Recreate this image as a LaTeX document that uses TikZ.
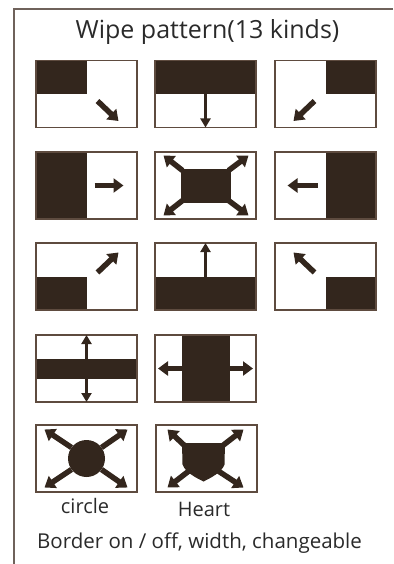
\documentclass[tikz,border=0pt]{standalone}
\usepackage{fontspec}
\setmainfont{Open Sans}
\usepackage{tikz}
\usetikzlibrary{arrows.meta,calc,backgrounds}
\definecolor{WipeInk}{HTML}{33261D}
\definecolor{WipeEdge}{HTML}{5E4B3F}
\definecolor{WipeFrame}{HTML}{6F625B}
\definecolor{WipeText}{HTML}{2A2A2A}

\begin{document}
\begin{tikzpicture}[x=1pt,y=-1pt,
  wbox/.style={draw=WipeEdge,line width=1.6pt,minimum width=101pt,
    minimum height=67pt,inner sep=0pt,outer sep=0pt},
  fatarrow/.style={-{Triangle[length=10pt,width=14pt]},line width=5.5pt,WipeInk},
  thinarrow/.style={-{Triangle[length=9pt,width=10pt]},line width=2.2pt,WipeInk},
  label/.style={anchor=base,WipeText,font=\fontsize{20}{24}\selectfont}]
  \useasboundingbox (0,0) rectangle (393,564);
  \draw[WipeFrame,line width=2pt] (393,9) -- (14,9) -- (14,566);
  \node[anchor=base,WipeText,font=\fontsize{25}{30}\selectfont] (title)
    at (207.5,38.5) {Wipe pattern(13 kinds)};
  % the wipe boxes
  \node[wbox] (cornerTL) at (86.5,94) {};
  \node[wbox] (edgeTop) at (205.5,94) {};
  \node[wbox] (cornerTR) at (325.5,94) {};
  \node[wbox] (edgeLeft) at (86.5,185.5) {};
  \node[wbox] (boxCenter) at (205.5,185.5) {};
  \node[wbox] (edgeRight) at (325.5,185.5) {};
  \node[wbox] (cornerBL) at (86.5,276.5) {};
  \node[wbox] (edgeBottom) at (205.5,276.5) {};
  \node[wbox] (cornerBR) at (325.5,276.5) {};
  \node[wbox] (splitH) at (86.5,368.5) {};
  \node[wbox] (splitV) at (205.5,368.5) {};
  \node[wbox] (circ) at (86.5,458.5) {};
  \node[wbox] (heart) at (206.5,458.5) {};
  \begin{scope}[on background layer]
    \fill[WipeInk] (cornerTL.north west) rectangle (cornerTL.center);
    \fill[WipeInk] (edgeTop.north west) rectangle (edgeTop.east);
    \fill[WipeInk] (cornerTR.north east) rectangle (cornerTR.center);
    \fill[WipeInk] (edgeLeft.north west) rectangle (edgeLeft.south);
    \fill[WipeInk] ($(boxCenter.center)+(-25,-17)$) rectangle ($(boxCenter.center)+(25,17)$);
    \fill[WipeInk] (edgeRight.north) rectangle (edgeRight.south east);
    \fill[WipeInk] (cornerBL.south west) rectangle (cornerBL.center);
    \fill[WipeInk] (edgeBottom.south west) rectangle (edgeBottom.east);
    \fill[WipeInk] (cornerBR.south east) rectangle (cornerBR.center);
    \fill[WipeInk] ($(splitH.west)+(0,-10)$) rectangle ($(splitH.east)+(0,10)$);
    \fill[WipeInk] ($(splitV.north)+(-24,0)$) rectangle ($(splitV.south)+(24,0)$);
    \fill[WipeInk] (circ.center) circle (18.5pt);
    \fill[WipeInk,shift={(heart.center)}] (-24.5,-15.5) -- (18.5,-15.5)
      -- (18,6) .. controls (15,14) and (5,19) .. (-3,23)
      .. controls (-11,19) and (-21,14) .. (-24,6) -- cycle;
  \end{scope}
  % arrows
  \draw[fatarrow] ($(cornerTL.center)+(11,7)$) -- ($(cornerTL.center)+(32,27)$);
  \draw[thinarrow] (edgeTop.center) -- (edgeTop.south);
  \draw[fatarrow] ($(cornerTR.center)+(-11,7)$) -- ($(cornerTR.center)+(-32,27)$);
  \draw[fatarrow] ($(edgeLeft.center)+(8,0)$) -- ($(edgeLeft.center)+(37,0)$);
  \draw[fatarrow] ($(boxCenter.center)+(-23,-15)$) -- ($(boxCenter.center)+(-42,-30)$);
  \draw[fatarrow] ($(boxCenter.center)+(23,-15)$) -- ($(boxCenter.center)+(43,-30)$);
  \draw[fatarrow] ($(boxCenter.center)+(-23,15)$) -- ($(boxCenter.center)+(-42,30)$);
  \draw[fatarrow] ($(boxCenter.center)+(23,15)$) -- ($(boxCenter.center)+(43,30)$);
  \draw[fatarrow] ($(edgeRight.center)+(-8,0)$) -- ($(edgeRight.center)+(-38,0)$);
  \draw[fatarrow] ($(cornerBL.center)+(11,-4)$) -- ($(cornerBL.center)+(32,-24)$);
  \draw[thinarrow] (edgeBottom.center) -- (edgeBottom.north);
  \draw[fatarrow] ($(cornerBR.center)+(-11,-4)$) -- ($(cornerBR.center)+(-32,-24)$);
  \draw[thinarrow] ($(splitH.center)+(0,-10)$) -- (splitH.north);
  \draw[thinarrow] ($(splitH.center)+(0,10)$) -- (splitH.south);
  \draw[fatarrow] ($(splitV.center)+(-24,0)$) -- ($(splitV.west)+(3,0)$);
  \draw[fatarrow] ($(splitV.center)+(24,0)$) -- ($(splitV.east)+(-3,0)$);
  \draw[fatarrow] ($(circ.center)+(-15,-11)$) -- ($(circ.center)+(-42,-29)$);
  \draw[fatarrow] ($(circ.center)+(15,-11)$) -- ($(circ.center)+(41,-29)$);
  \draw[fatarrow] ($(circ.center)+(-15,11)$) -- ($(circ.center)+(-42,29)$);
  \draw[fatarrow] ($(circ.center)+(15,11)$) -- ($(circ.center)+(41,29)$);
  \draw[fatarrow] ($(heart.center)+(-21,-12)$) -- ($(heart.center)+(-39,-29)$);
  \draw[fatarrow] ($(heart.center)+(15,-12)$) -- ($(heart.center)+(37,-29)$);
  \draw[fatarrow] ($(heart.center)+(-17,12)$) -- ($(heart.center)+(-39,29)$);
  \draw[fatarrow] ($(heart.center)+(11,12)$) -- ($(heart.center)+(37,29)$);
  % labels
  \node[label] (circleLabel) at (85,513) {circle};
  \node[label] (heartLabel) at (204,516) {Heart};
  \node[label,anchor=base west,inner sep=0pt,font=\fontsize{20.5}{24}\selectfont]
    (note) at (37,548) {Border on / off, width, changeable};
\end{tikzpicture}
\end{document}
